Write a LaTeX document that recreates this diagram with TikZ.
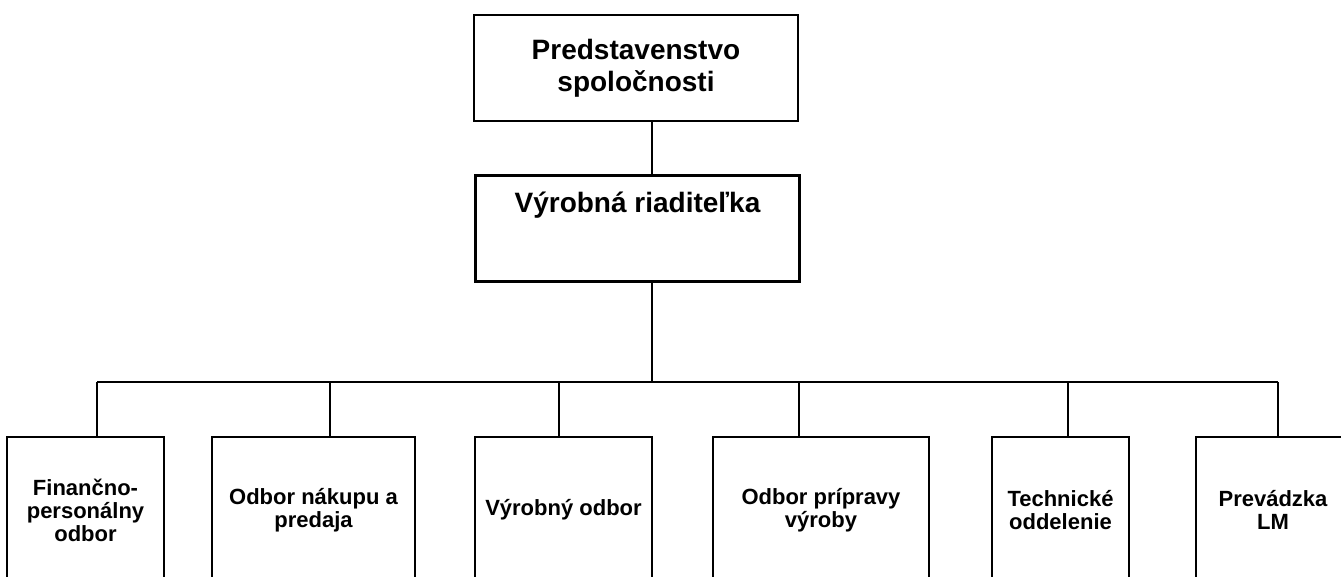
\documentclass[tikz,border=0pt]{standalone}
\usepackage{fontspec}
\setmainfont{Liberation Sans}
\usetikzlibrary{positioning}

\tikzset{
  topbox/.style={draw, line width=0.7pt, align=center, inner sep=0pt,
    font=\bfseries\fontsize{14}{16}\selectfont,
    minimum width=162pt, minimum height=53pt},
  unitbox/.style={draw, line width=0.7pt, align=center, inner sep=0pt,
    font=\bfseries\fontsize{11}{11.5}\selectfont, minimum height=73pt},
  link/.style={line width=0.6pt}
}

\begin{document}
\begin{tikzpicture}[x=0.5pt, y=-0.5pt]
\path[use as bounding box, clip] (0,0) rectangle (1341,577);

% Board and director
\node[topbox] (pred) at (636,68) {Predstavenstvo\\spoločnosti};
\node[topbox, line width=1.4pt, text height=18.5pt, text depth=34pt] (riad) at (637.5,228.5) {Výrobná riaditeľka};

% Departments (bottom edges run off the page)
\node[unitbox, minimum width=78.5pt] (fin) at (85.5,510) {Finančno-\\personálny\\odbor};
\node[unitbox, minimum width=101.5pt] (nak) at (313.5,510) {Odbor nákupu a\\predaja};
\node[unitbox, minimum width=88.5pt] (vyr) at (563.5,510) {Výrobný odbor};
\node[unitbox, minimum width=108pt] (pri) at (821,510) {Odbor prípravy\\výroby};
\node[unitbox, minimum width=68.5pt] (tech) at (1060.5,510) {Technické\\oddelenie};
\node[unitbox, minimum width=77pt] (prev) at (1273,510) {Prevádzka\\LM};

% Spine and bar
\coordinate (osa) at (652,382);
\coordinate (dfin) at (97,382);
\coordinate (dnak) at (330,382);
\coordinate (dvyr) at (559,382);
\coordinate (dpri) at (799,382);
\coordinate (dtech) at (1068,382);
\coordinate (dprev) at (1278,382);

\draw[link] (pred.south -| osa) -- (riad.north -| osa);
\draw[link] (riad.south -| osa) -- (osa);
\draw[link] (dfin) -- (dprev);
\draw[link] (dfin) -- (fin.north -| dfin);
\draw[link] (dnak) -- (nak.north -| dnak);
\draw[link] (dvyr) -- (vyr.north -| dvyr);
\draw[link] (dpri) -- (pri.north -| dpri);
\draw[link] (dtech) -- (tech.north -| dtech);
\draw[link] (dprev) -- (prev.north -| dprev);
\end{tikzpicture}
\end{document}
